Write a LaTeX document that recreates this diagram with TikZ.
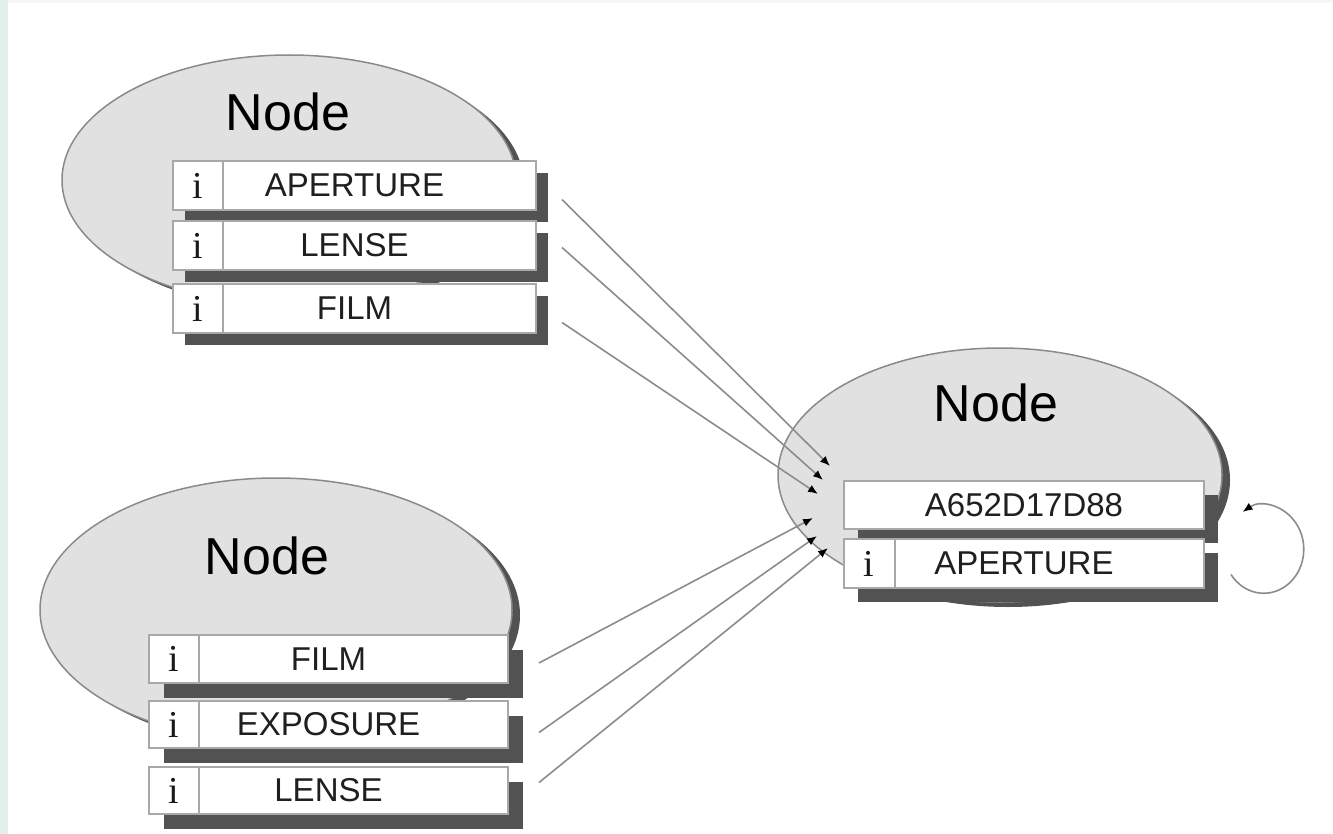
\documentclass[tikz,border=0pt]{standalone}
\usepackage{fontspec}
\setmainfont{Liberation Sans}
\newfontfamily\iserif{Liberation Serif}
\usetikzlibrary{shapes.geometric,shadows,arrows.meta,calc}
\definecolor{bubblefill}{HTML}{E1E1E1}
\definecolor{rim}{HTML}{8A8A8A}
\definecolor{boxrim}{HTML}{A8A8A8}
\definecolor{shade}{HTML}{525252}
\definecolor{wire}{HTML}{8C8C8C}
\definecolor{margin}{HTML}{E4F0EC}
\begin{document}
\begin{tikzpicture}[x=1pt,y=-1pt,
  bubble/.style={ellipse, draw=rim, line width=1.5pt, fill=bubblefill, inner sep=0pt,
    drop shadow={shadow xshift=8pt, shadow yshift=-5pt, opacity=1, fill=shade}},
  title/.style={font=\fontsize{52}{60}\selectfont, text=black},
  field/.style={rectangle, draw=boxrim, line width=2pt, fill=white, anchor=north west,
    inner sep=0pt, text=black!88, font=\fontsize{33}{38}\selectfont,
    minimum height=49pt, minimum width=363pt,
    drop shadow={shadow xshift=#1, shadow yshift=-#1, opacity=1, fill=shade}},
  field/.default=13pt,
  icon/.style={font=\iserif\fontsize{38}{40}\selectfont, text=black!90, inner sep=0pt},
  divider/.style={draw=boxrim, line width=2pt},
  link/.style={draw=wire, line width=1.6pt, -{Latex[length=10pt,width=8pt,color=black]}}
]
\useasboundingbox (0,0) rectangle (1333,834);
\fill[white] (0,0) rectangle (1333,834);
\fill[margin] (0,0) rectangle (8,834);
\fill[margin!50] (8,0) rectangle (1333,3);

% class bubbles
\node[bubble, minimum width=454pt, minimum height=250pt] (eT) at (289,180) {};
\node[bubble, minimum width=472pt, minimum height=264pt] (eB) at (276,610) {};
\node[bubble, minimum width=444pt, minimum height=254pt] (eR) at (1000,475) {};
\node[title] (nT) at (288,112) {Node};
\node[title] (nB) at (267,556) {Node};
\node[title] (nR) at (996,403) {Node};

% upper-left member list
\node[field=12pt] (tA) at (172,160) {APERTURE};
\node[field=12pt] (tL) at (172,220) {LENSE};
\node[field=12pt] (tF) at (172,283) {FILM};
\foreach \r in {tA,tL,tF}{
  \draw[divider] ($(\r.north west)+(51,0)$) -- ($(\r.south west)+(51,0)$);
  \node[icon] at ($(\r.west)+(26,0)$) {i};
}

% lower-left member list
\node[field=15pt, minimum width=359pt, minimum height=48pt] (bF) at (148,634) {FILM};
\node[field=15pt, minimum width=359pt, minimum height=47pt] (bE) at (148,700) {EXPOSURE};
\node[field=15pt, minimum width=359pt, minimum height=47pt] (bL) at (148,766) {LENSE};
\foreach \r in {bF,bE,bL}{
  \draw[divider] ($(\r.north west)+(51,0)$) -- ($(\r.south west)+(51,0)$);
  \node[icon] at ($(\r.west)+(26,0)$) {i};
}

% right-hand member list
\node[field=14pt, minimum width=360pt, minimum height=48pt] (rN) at (843,480) {A652D17D88};
\node[field=14pt, minimum width=360pt, minimum height=49pt] (rA) at (843,538) {APERTURE};
\draw[divider] ($(rA.north west)+(52,0)$) -- ($(rA.south west)+(52,0)$);
\node[icon] at ($(rA.west)+(26,0)$) {i};

% arrow landing points beside the key field
\coordinate (in1) at ($(rN.west)+(-13,-39)$);
\coordinate (in2) at ($(rN.west)+(-20,-25)$);
\coordinate (in3) at ($(rN.west)+(-25,-11)$);
\coordinate (in4) at ($(rN.west)+(-30,13)$);
\coordinate (in5) at ($(rN.west)+(-26,31)$);
\coordinate (in6) at ($(rN.west)+(-15,43)$);

% references
\draw[link] ($(tA.east)+(25,14)$) -- (in1);
\draw[link] ($(tL.east)+(25,2)$) -- (in2);
\draw[link] ($(tF.east)+(25,14)$) -- (in3);
\draw[link] ($(bF.east)+(30,4)$) -- (in4);
\draw[link] ($(bE.east)+(30,8)$) -- (in5);
\draw[link] ($(bL.east)+(30,-8)$) -- (in6);

% self reference
\draw[link] ($(rA.east)+(26,11)$) arc[start angle=145, end angle=-122, x radius=40, y radius=44];
\end{tikzpicture}
\end{document}
